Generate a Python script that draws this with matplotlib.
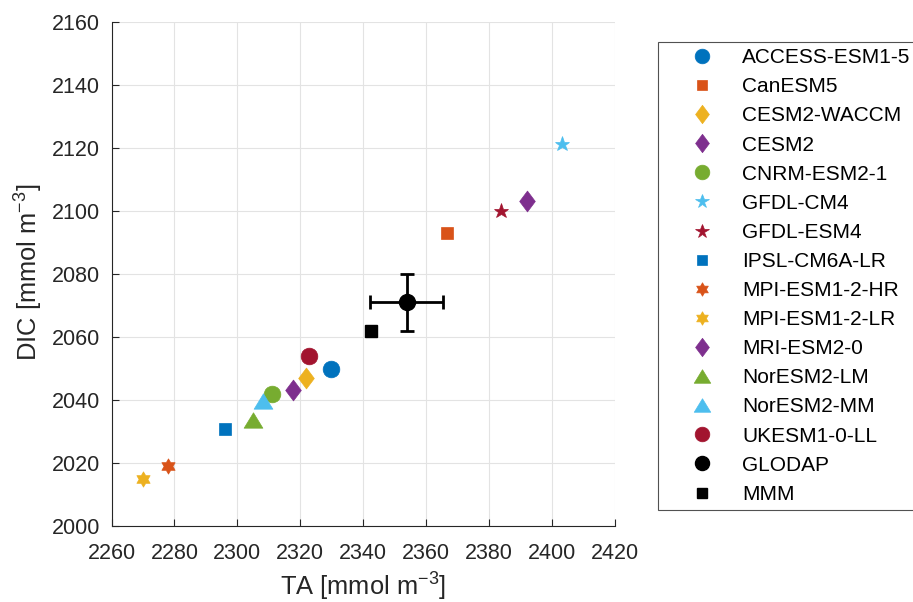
import matplotlib
matplotlib.use("Agg")
import matplotlib.pyplot as plt
from matplotlib.path import Path
import numpy as np

plt.rcParams['font.family'] = ['Liberation Sans', 'DejaVu Sans']
plt.rcParams['mathtext.fontset'] = 'custom'
plt.rcParams['mathtext.rm'] = 'Liberation Sans'
plt.rcParams['mathtext.default'] = 'regular'

# ---- data ----
models = ["ACCESS-ESM1-5", "CanESM5", "CESM2-WACCM", "CESM2", "CNRM-ESM2-1",
          "GFDL-CM4", "GFDL-ESM4", "IPSL-CM6A-LR", "MPI-ESM1-2-HR",
          "MPI-ESM1-2-LR", "MRI-ESM2-0", "NorESM2-LM", "NorESM2-MM",
          "UKESM1-0-LL"]
ta = [2329.7, 2366.8, 2321.9, 2392.1, 2311.0, 2403.1, 2383.8, 2296.0,
      2278.0, 2269.9, 2317.8, 2305.1, 2308.1, 2322.8]
dic = [2050.0, 2092.9, 2047.0, 2103.1, 2042.1, 2121.1, 2099.9, 2031.0,
       2019.0, 2015.1, 2043.1, 2033.7, 2039.8, 2054.0]
glodap_ta, glodap_dic = 2353.8, 2071.0
glodap_ta_err, glodap_dic_err = 11.6, 9.0
mmm_ta, mmm_dic = 2342.4, 2062.0

xticks = [2260, 2280, 2300, 2320, 2340, 2360, 2380, 2400, 2420]
yticks = [2000, 2020, 2040, 2060, 2080, 2100, 2120, 2140, 2160]

# ---- styles ----
blue, orange, yellow, purple = '#0072BD', '#D95319', '#EDB120', '#7E2F8E'
green, lblue, dred = '#77AC30', '#4DBEEE', '#A2142F'

diamond = Path([(0, 1), (0.75, 0), (0, -1), (-0.75, 0), (0, 1)],
               [Path.MOVETO, Path.LINETO, Path.LINETO, Path.LINETO, Path.CLOSEPOLY])
tri = Path([(0, 0.5), (-0.61, -0.5), (0.61, -0.5), (0, 0.5)],
           [Path.MOVETO, Path.LINETO, Path.LINETO, Path.CLOSEPOLY])
hexa = Path.unit_regular_star(6, 0.5774)

mk = {'o': ('o', 12), 's': ('s', 8.6), 'd': (diamond, 15), 'p': ('*', 11.2),
      'h': (hexa, 11), '^': (tri, 13.5)}
styles = [('o', blue), ('s', orange), ('d', yellow), ('d', purple), ('o', green),
          ('p', lblue), ('p', dred), ('s', blue), ('h', orange), ('h', yellow),
          ('d', purple), ('^', green), ('^', lblue), ('o', dred)]

W, H = 913, 602
fig = plt.figure(figsize=(W / 100, H / 100), dpi=100)
ax_l, ax_b, ax_w, ax_h = 111.5, 526.4, 503.3, 504.8  # pixels
ax = fig.add_axes([ax_l / W, (H - ax_b) / H, ax_w / W, ax_h / H])

handles = []
for name, x, y, (m, c) in zip(models, ta, dic, styles):
    marker, ms = mk[m]
    h, = ax.plot([x], [y], linestyle='none', marker=marker, markersize=ms,
                 markerfacecolor=c, markeredgecolor=c, markeredgewidth=0.5,
                 label=name, zorder=3)
    handles.append(h)

ax.errorbar([glodap_ta], [glodap_dic], xerr=[glodap_ta_err], yerr=[glodap_dic_err],
            fmt='none', ecolor='black', elinewidth=2, capsize=4.7, capthick=2, zorder=4)
hg, = ax.plot([glodap_ta], [glodap_dic], linestyle='none', marker='o', markersize=11.5,
              color='black', label='GLODAP', zorder=5)
hm, = ax.plot([mmm_ta], [mmm_dic], linestyle='none', marker='s', markersize=8.6,
              color='black', label='MMM', zorder=5)
handles += [hg, hm]

ax.set_xlim(2260, 2420)
ax.set_ylim(2000, 2160)
ax.set_xticks(xticks)
ax.set_yticks(yticks)
ax.tick_params(direction='in', length=5, width=0.8, colors='#262626',
               labelsize=15.5, top=False, right=False)
ax.tick_params(axis='x', pad=12)
ax.tick_params(axis='y', pad=8.3)
for lab in ax.get_xticklabels() + ax.get_yticklabels():
    lab.set_color('#262626')
ax.grid(True, color='#e3e3e3', linewidth=0.8, zorder=0)
ax.set_axisbelow(True)
for s in ['top', 'right']:
    ax.spines[s].set_visible(False)
for s in ['left', 'bottom']:
    ax.spines[s].set_color('#262626')
    ax.spines[s].set_linewidth(0.8)

ax.set_xlabel(r'TA [mmol m$^{-3}$]', fontsize=18.4, color='#262626')
ax.xaxis.set_label_coords(0.5, -(596.0 - ax_b) / ax_h)
ax.xaxis.label.set_va('baseline')
ax.set_ylabel(r'DIC [mmol m$^{-3}$]', fontsize=18.4, color='#262626')
ax.yaxis.set_label_coords(-(ax_l - 37.3) / ax_w, (ax_b - 272.5) / ax_h)
ax.yaxis.label.set_rotation_mode('anchor')
ax.yaxis.label.set_ha('center')
ax.yaxis.label.set_va('baseline')

leg = fig.legend(handles=handles, loc='upper left',
                 bbox_to_anchor=(658 / W, 1 - 42 / H), fontsize=15,
                 frameon=True, fancybox=False, edgecolor='#262626',
                 borderpad=0.3, handlelength=3.6, handletextpad=0.13,
                 labelspacing=0.485, borderaxespad=0, markerscale=0.88)
leg.get_frame().set_linewidth(0.8)

fig.savefig('out.png', dpi=100)
